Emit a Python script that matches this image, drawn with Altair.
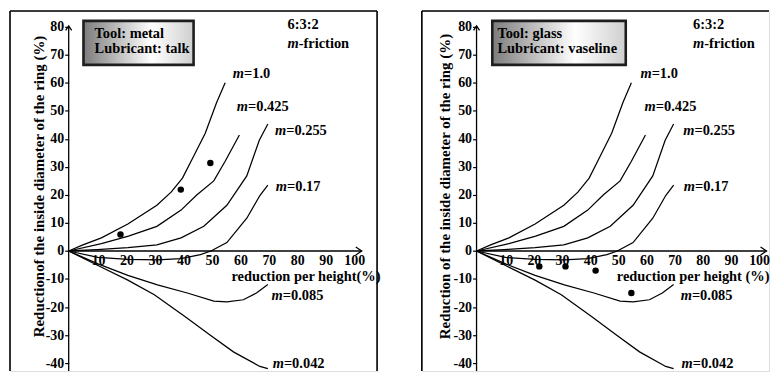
import altair as alt
import pandas as pd

FONT = "Liberation Serif"
FS = 14.5

# ---------------- data ----------------
m_names = ["1.0", "0.425", "0.255", "0.17", "0.085", "0.042"]

m10_x = [0, 5, 11.5, 20.8, 31, 36, 40, 44, 48, 52, 55]
m10_y = [0, 2.2, 4.7, 9.6, 16.3, 21, 26, 34, 42, 53, 60]

m0425_x = [0, 11.5, 21, 31, 39.5, 45, 51, 55, 60]
m0425_y = [0, 2.6, 5.3, 8.8, 14.6, 20, 25, 32, 41.4]

m0255_x = [0, 10, 20.8, 31, 39.5, 47.5, 55.6, 62.6, 67, 70]
m0255_y = [0, 0.5, 1.2, 2.2, 4.7, 8.8, 16.3, 26.8, 39.5, 45.3]

m017_x = [0, 10.3, 20.8, 31.2, 39.4, 46.3, 50, 55.6, 62.6, 67.2, 70]
m017_y = [0, -2.3, -3.0, -3.2, -2.7, -1.3, 0, 3.0, 11.7, 19.8, 23.5]

m0085_x = [0, 10.3, 20.8, 31.2, 41.7, 51, 55.6, 61.4, 66, 70]
m0085_y = [0, -4.6, -8.7, -12.1, -15.0, -17.9, -18.2, -17.4, -15.0, -12]

m0042_x = [0, 10.3, 20.8, 30.1, 40.6, 49.8, 57.9, 67.2, 70]
m0042_y = [0, -5.2, -10.4, -15.6, -23.2, -30.1, -36, -41.2, -42]

curves_x = [m10_x, m0425_x, m0255_x, m017_x, m0085_x, m0042_x]
curves_y = [m10_y, m0425_y, m0255_y, m017_y, m0085_y, m0042_y]

metal_x = [18.2, 39.4, 49.8]
metal_y = [5.9, 21.9, 31.4]

glass_x = [22.3, 31.6, 42.3, 55]
glass_y = [-5.5, -5.5, -7, -15]

x_ticks = [10, 20, 30, 40, 50, 60, 70, 80, 90, 100]
y_ticks = [-40, -30, -20, -10, 0, 10, 20, 30, 40, 50, 60, 70, 80]

# annotation positions (data units)
left_label_x = [57.7, 59.1, 72.5, 72.8, 71.3, 71.7]
right_label_x = [58.2, 59.7, 73.4, 73.6, 72.5, 72.8]
label_y = [63.0, 51.4, 42.7, 22.8, -16.2, -40.2]

arrow_x_end = 103.0
arrow_y_end = 80.3


def curves_df():
    rows = []
    for name, xs, ys in zip(m_names, curves_x, curves_y):
        for i, (a, b) in enumerate(zip(xs, ys)):
            rows.append({"m": name, "i": i, "x": a, "y": b})
    return pd.DataFrame(rows)


def panel(dots_x, dots_y, box, tool_lines, text_x, lab_x, xdom, ydom, W, H,
          ytitle, xtitle, y_off, x_off, ytitleX, xtitleX, label_dx, right_edge):
    xs = alt.Scale(domain=xdom, nice=False, zero=False)
    ys = alt.Scale(domain=ydom, nice=False, zero=False)

    x_axis = alt.Axis(values=x_ticks, orient="bottom", offset=x_off, domain=False,
                      ticks=False, grid=False, labelPadding=3, labelOffset=label_dx,
                      labelFont=FONT, labelFontWeight="bold", labelFontSize=14,
                      labelColor="black", labelAngle=0, labelFlush=False,
                      title=xtitle, titleFont=FONT, titleFontWeight="bold",
                      titleFontSize=FS, titleColor="black", titleX=xtitleX,
                      titleY=25.5, titleAlign="right", titleBaseline="middle")
    y_axis = alt.Axis(values=y_ticks, orient="left", offset=y_off, domain=False,
                      ticks=True, tickSize=4, tickColor="black", tickWidth=1.2,
                      grid=False, labelPadding=1, labelFlush=False,
                      labelExpr="'' + datum.value",
                      labelFont=FONT, labelFontWeight="bold", labelFontSize=14,
                      labelColor="black", labelBaseline="middle",
                      title=ytitle, titleFont=FONT, titleFontWeight="bold",
                      titleFontSize=15, titleColor="black", titleX=ytitleX,
                      titleY=176, titleAngle=270, titleAlign="center",
                      titleBaseline="middle")

    def X(f="x"):
        return alt.X(f + ":Q", scale=xs, axis=x_axis)

    def Y(f="y"):
        return alt.Y(f + ":Q", scale=ys, axis=y_axis)

    def tx(**kw):
        base = dict(align="left", baseline="middle", font=FONT, fontWeight="bold",
                    fontSize=FS, color="black")
        base.update(kw)
        return base

    lines = alt.Chart(curves_df()).mark_line(color="black", strokeWidth=1.25).encode(
        x=X(), y=Y(), detail="m:N", order="i:Q")

    dots = alt.Chart(pd.DataFrame({"x": dots_x, "y": dots_y})).mark_point(
        filled=True, color="black", size=42, opacity=1, shape="circle").encode(x=X(), y=Y())

    xline = alt.Chart(pd.DataFrame({"x": [0], "x2": [arrow_x_end], "y": [0]})).mark_rule(
        color="black", strokeWidth=1.3).encode(x=X(), x2="x2:Q", y=Y())
    yline = alt.Chart(pd.DataFrame({"x": [0], "y": [ydom[0]], "y2": [arrow_y_end]})).mark_rule(
        color="black", strokeWidth=1.3).encode(x=X(), y=Y(), y2="y2:Q")

    # panel frame: left and top edges (plus right edge where it is visible)
    fx = [xdom[0], xdom[0]]
    fx2 = [xdom[0], xdom[1]]
    fy = [ydom[0], ydom[1]]
    fy2 = [ydom[1], ydom[1]]
    if right_edge:
        fx.append(xdom[1]); fx2.append(xdom[1]); fy.append(ydom[0]); fy2.append(ydom[1])
    frame = alt.Chart(pd.DataFrame({"x": fx, "x2": fx2, "y": fy, "y2": fy2})).mark_rule(
        color="black", strokeWidth=1.6).encode(x=X(), x2="x2:Q", y=Y(), y2="y2:Q")

    xarrow = alt.Chart(pd.DataFrame({"x": [arrow_x_end], "y": [0]})).mark_point(
        shape="M-1.5,-1L0,0L-1.5,1", size=64, filled=False, color="black",
        strokeWidth=1.3, opacity=1).encode(x=X(), y=Y())
    yarrow = alt.Chart(pd.DataFrame({"x": [0], "y": [arrow_y_end]})).mark_point(
        shape="M-1,1.5L0,0L1,1.5", size=36, filled=False, color="black",
        strokeWidth=1.3, opacity=1).encode(x=X(), y=Y())

    grad = alt.LinearGradient(
        gradient="linear",
        stops=[alt.GradientStop(color="#7c7c7c", offset=0),
               alt.GradientStop(color="#ffffff", offset=0.62),
               alt.GradientStop(color="#cfcfcf", offset=1)],
        x1=0, x2=1, y1=0, y2=0)
    boxr = alt.Chart(pd.DataFrame({"x": [box[0]], "x2": [box[1]], "y": [box[2]], "y2": [box[3]]})).mark_rect(
        fill=grad, stroke="#1e1e1e", strokeWidth=2.6).encode(x=X(), x2="x2:Q", y=Y(), y2="y2:Q")

    tool_df = pd.DataFrame({"x": [text_x, text_x], "y": [77.6, 72.1], "t": tool_lines})
    tool_txt = alt.Chart(tool_df).mark_text(**tx()).encode(x=X(), y=Y(), text="t:N")

    ratio_x = 76.9
    ratio = alt.Chart(pd.DataFrame({"x": [ratio_x], "y": [80.7], "t": ["6:3:2"]})).mark_text(
        **tx()).encode(x=X(), y=Y(), text="t:N")
    mfr_m = alt.Chart(pd.DataFrame({"x": [ratio_x], "y": [73.7], "t": ["m"]})).mark_text(
        **tx(fontStyle="italic")).encode(x=X(), y=Y(), text="t:N")
    mfr_rest = alt.Chart(pd.DataFrame({"x": [ratio_x], "y": [73.7], "t": ["-friction"]})).mark_text(
        **tx(dx=11.3)).encode(x=X(), y=Y(), text="t:N")

    lab_df = pd.DataFrame({"x": lab_x, "y": label_y, "m": ["m"] * 6,
                           "t": ["=" + n for n in m_names]})
    lab_m = alt.Chart(lab_df).mark_text(**tx(fontStyle="italic")).encode(
        x=X(), y=Y(), text="m:N")
    lab_rest = alt.Chart(lab_df).mark_text(**tx(dx=11.3)).encode(
        x=X(), y=Y(), text="t:N")

    return alt.layer(lines, frame, xline, yline, xarrow, yarrow, dots, boxr, tool_txt,
                     ratio, mfr_m, mfr_rest, lab_m, lab_rest).properties(width=W, height=H)


# y: 80 -> 24 px, -40 -> 362 px (page coords); view spans 8..370
PXY = 2.817
Y0 = 249.3
H = 362
ydom = [-(370 - Y0) / PXY, (Y0 - 8) / PXY]
XOFF = -(370 - Y0)

# left panel: view 8..377, origin at 67
PXL = 2.86
left = panel(metal_x, metal_y, [5.2, 43.9, 82.1, 66.4], ["Tool: metal", "Lubricant: talk"],
             9.1, left_label_x, [-(67 - 8) / PXL, (377 - 67) / PXL], ydom, 369, H,
             "Reductionof the inside diameter of the ring (%)", "reduction per height(%)",
             -59, XOFF, -30, 372, 1, True)

# right panel: view 422..771, origin at 477
PXR = 2.83
right = panel(glass_x, glass_y, [5.6, 53.0, 82.1, 66.4], ["Tool: glass", "Lubricant: vaseline"],
              7.4, right_label_x, [-(477 - 422) / PXR, (771 - 477) / PXR], ydom, 349, H,
              "Reduction of the inside diameter of the ring (%)", "reduction per height (%)",
              -55, XOFF, -32, 349, 1, False)

chart = alt.hconcat(left, right, spacing=45, bounds="flush").properties(
    padding={"left": 0, "top": 0, "right": 0, "bottom": 0}
).configure_view(stroke=None).configure(background="white")

chart.save("out.html", embed_options={"renderer": "svg", "actions": False})
